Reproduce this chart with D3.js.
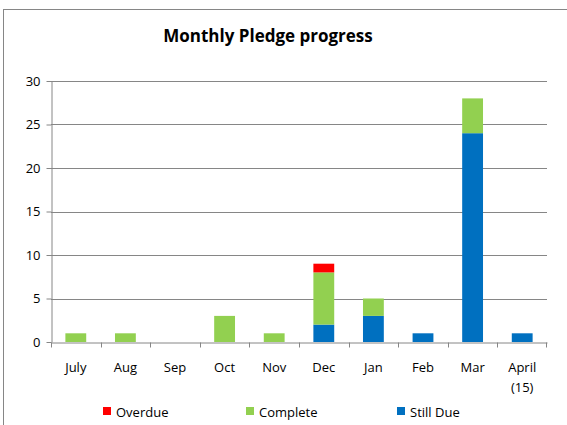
<!DOCTYPE html>
<html>
<head>
<meta charset="utf-8">
<title>Monthly Pledge progress</title>
<script src="https://cdn.jsdelivr.net/npm/d3@7"></script>
<style>
    body { margin: 0; background: #fff; }
    text { font-family: "Open Sans", "Liberation Sans", Arial, sans-serif; fill: #000; }
    .axis path, .axis line { stroke: #868686; }
    .grid line { stroke: #868686; }
</style>
</head>
<body>
<script>
    var months = ["July", "Aug", "Sep", "Oct", "Nov", "Dec", "Jan", "Feb", "Mar", "April (15)"];
    var stillDue = [0, 0, 0, 0, 0, 2, 3, 1, 24, 1];
    var complete = [1, 1, 0, 3, 1, 6, 2, 0, 4, 0];
    var overdue  = [0, 0, 0, 0, 0, 1, 0, 0, 0, 0];
    var yTicks = [0, 5, 10, 15, 20, 25, 30];

    var seriesNames = ["Still Due", "Complete", "Overdue"];
    var colors = {"Still Due": "#0070C0", "Complete": "#92D050", "Overdue": "#FF0000"};
    var legendOrder = ["Overdue", "Complete", "Still Due"];

    var width = 567, height = 425;
    var margin = {left: 51, right: 20, top: 81, bottom: 83};

    var svg = d3.select("body").append("svg")
        .attr("width", width)
        .attr("height", height);

    svg.append("rect")
        .attr("x", 3.5).attr("y", 9.5)
        .attr("width", 600).attr("height", 500)
        .attr("fill", "none").attr("stroke", "#868686");

    var rows = months.map(function (m, i) {
        return {month: m, "Still Due": stillDue[i], "Complete": complete[i], "Overdue": overdue[i]};
    });

    var x = d3.scaleBand()
        .domain(months)
        .range([margin.left, width - margin.right]);

    var y = d3.scaleLinear()
        .domain([0, 30])
        .range([height - margin.bottom, margin.top]);

    // gridlines
    svg.append("g").attr("class", "grid")
        .selectAll("line")
        .data(yTicks.slice(1))
        .enter().append("line")
        .attr("x1", margin.left).attr("x2", width - margin.right)
        .attr("y1", function (d) { return Math.round(y(d)) + 0.5; })
        .attr("y2", function (d) { return Math.round(y(d)) + 0.5; });

    var stack = d3.stack().keys(seriesNames)(rows);

    svg.append("g").selectAll("g")
        .data(stack)
        .enter().append("g")
        .attr("fill", function (d) { return colors[d.key]; })
        .selectAll("rect")
        .data(function (d) { return d; })
        .enter().append("rect")
        .attr("x", function (d) { return x(d.data.month) + x.bandwidth() * 0.29; })
        .attr("width", x.bandwidth() * 0.42)
        .attr("y", function (d) { return y(d[1]); })
        .attr("height", function (d) { return y(d[0]) - y(d[1]); });

    // y axis
    var yAxis = svg.append("g").attr("class", "axis")
        .attr("transform", "translate(" + (margin.left + 0.5) + ",0)")
        .call(d3.axisLeft(y).tickValues(yTicks).tickSize(5).tickSizeOuter(0).tickPadding(6));
    yAxis.selectAll("text").style("font-size", "13px");

    // x axis
    var xAxis = svg.append("g").attr("class", "axis")
        .attr("transform", "translate(0," + (Math.round(y(0)) + 0.5) + ")")
        .call(d3.axisBottom(x).tickSize(0).tickSizeOuter(0).tickFormat(""));
    xAxis.selectAll(".tick").remove();

    xAxis.selectAll("line.sep")
        .data(months)
        .enter().append("line")
        .attr("class", "sep")
        .attr("x1", function (d) { return Math.round(x(d)) + 0.5; })
        .attr("x2", function (d) { return Math.round(x(d)) + 0.5; })
        .attr("y1", 0).attr("y2", 5);
    xAxis.append("line")
        .attr("x1", width - margin.right - 0.5).attr("x2", width - margin.right - 0.5)
        .attr("y1", 0).attr("y2", 5);

    var labels = svg.append("g").selectAll("text")
        .data(months)
        .enter().append("text")
        .attr("text-anchor", "middle")
        .style("font-size", "13px")
        .attr("x", function (d) { return x(d) + x.bandwidth() / 2; })
        .attr("y", 372);
    labels.each(function (d) {
        var parts = d.split(" ");
        var t = d3.select(this);
        parts.forEach(function (p, i) {
            t.append("tspan")
                .attr("x", x(d) + x.bandwidth() / 2)
                .attr("dy", i === 0 ? 0 : 20)
                .text(p);
        });
    });

    svg.append("text")
        .attr("x", 268).attr("y", 42)
        .attr("text-anchor", "middle")
        .style("font-size", "17px")
        .style("font-weight", "bold")
        .text("Monthly Pledge progress");

    var legendX = {"Overdue": 103, "Complete": 246, "Still Due": 397};
    var legend = svg.append("g").selectAll("g")
        .data(legendOrder)
        .enter().append("g")
        .attr("transform", function (d) { return "translate(" + legendX[d] + ",407)"; });
    legend.append("rect")
        .attr("width", 8).attr("height", 8)
        .attr("fill", function (d) { return colors[d]; });
    legend.append("text")
        .attr("x", 13).attr("y", 10)
        .style("font-size", "13px")
        .text(function (d) { return d; });
</script>
</body>
</html>
